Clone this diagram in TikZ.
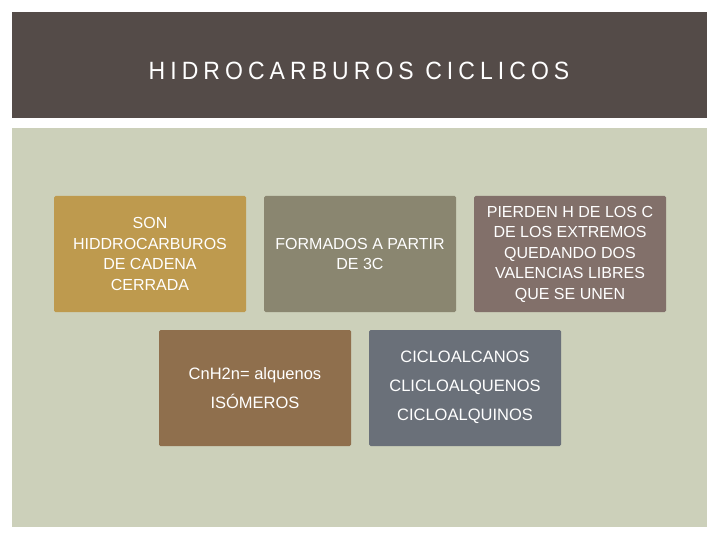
\documentclass[tikz,border=0pt]{standalone}
\usepackage{fontspec}
\setmainfont{Liberation Sans}
\definecolor{hdr}{HTML}{544B48}
\definecolor{panel}{HTML}{CCD0BA}
\definecolor{cgold}{HTML}{BE9A4E}
\definecolor{colive}{HTML}{8A8670}
\definecolor{cmauve}{HTML}{82706A}
\definecolor{cbrown}{HTML}{8F6F4D}
\definecolor{cslate}{HTML}{6A7079}
\begin{document}
\begin{tikzpicture}[x=1pt,y=-1pt,
  box/.style={rounded corners=1.5pt},
  boxtext/.style={text=white,align=center,font=\fontsize{16}{20.5}\selectfont,inner sep=0pt},
  listtext/.style={text=white,align=center,font=\fontsize{16.5}{29}\selectfont,inner sep=0pt}]
\useasboundingbox (0,0) rectangle (720,540);
\fill[white] (0,0) rectangle (720,540);
\fill[hdr] (12,12) rectangle (707,118);
\node[text=white,inner sep=0pt,font=\fontsize{25}{30}\selectfont\addfontfeatures{LetterSpace=22}] (title) at (359,71) {\scalebox{0.92}[1]{HIDROCARBUROS CICLICOS}};
\fill[panel] (12,128) rectangle (707,527);
\fill[box,cgold] (54,196) rectangle (246,312);
\fill[box,colive] (264,196) rectangle (456,312);
\fill[box,cmauve] (474,196) rectangle (666,312);
\fill[box,cbrown] (159,330) rectangle (351,446);
\fill[box,cslate] (369,330) rectangle (561,446);
\node[boxtext] (t1) at (150,254) {SON\\HIDDROCARBUROS\\DE CADENA\\CERRADA};
\node[boxtext] (t2) at (360,254) {FORMADOS A PARTIR\\DE 3C};
\node[boxtext] (t3) at (570,254) {PIERDEN H DE LOS C\\DE LOS EXTREMOS\\QUEDANDO DOS\\VALENCIAS LIBRES\\QUE SE UNEN};
\node[listtext] (t4) at (255,388) {CnH2n= alquenos\\ISÓMEROS};
\node[listtext] (t5) at (465,387) {CICLOALCANOS\\CLICLOALQUENOS\\CICLOALQUINOS};
\end{tikzpicture}
\end{document}
